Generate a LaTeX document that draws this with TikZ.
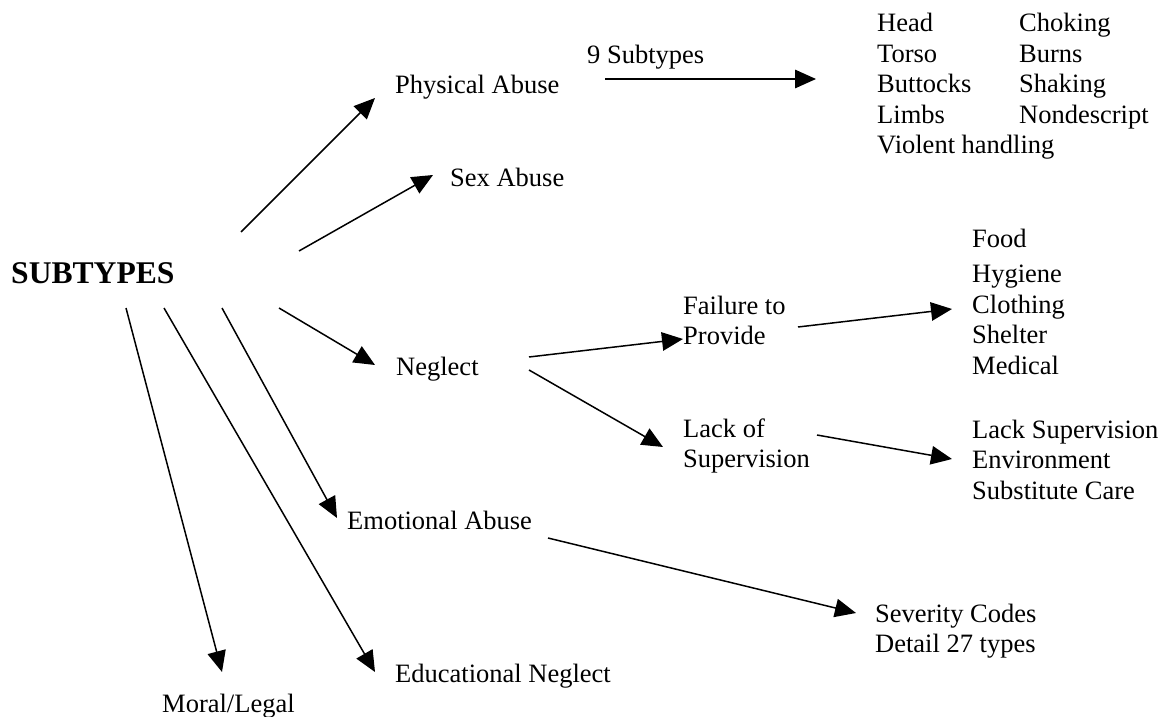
\documentclass[tikz,border=0pt]{standalone}
\usepackage{fontspec}
\setmainfont{Liberation Serif}
\usetikzlibrary{arrows.meta}
\begin{document}
\begin{tikzpicture}[x=1pt,y=-1pt,
  lbl/.style={anchor=base west, inner sep=0pt, font=\fontsize{26.5}{30.5}\selectfont},
  arr/.style={-{Triangle[length=21pt,width=18.5pt]}, line width=1.5pt, black}]
\useasboundingbox[fill=white] (0,0) rectangle (1160,717);

% text nodes
\node[lbl, font=\bfseries\fontsize{31.6}{36}\selectfont] (root) at (11,283) {SUBTYPES};
\node[lbl] (pa) at (395,93) {Physical Abuse};
\node[lbl] (nine) at (587,64) {9 Subtypes};
\node[lbl] (palist) at (877,32) {\begin{tabular}[t]{@{}p{142pt}@{}l@{}}Head & Choking\\ Torso & Burns\\ Buttocks & Shaking\\ Limbs & Nondescript\\ \multicolumn{2}{@{}l@{}}{Violent handling}\end{tabular}};
\node[lbl] (sa) at (450,186) {Sex Abuse};
\node[lbl] (ne) at (396,375) {Neglect};
\node[lbl] (ftp) at (683,314) {\begin{tabular}[t]{@{}l@{}}Failure to\\ Provide\end{tabular}};
\node[lbl] (los) at (683,437) {\begin{tabular}[t]{@{}l@{}}Lack of\\ Supervision\end{tabular}};
\node[lbl] (ftplist) at (972,247) {\begin{tabular}[t]{@{}l@{}}Food\\[5pt] Hygiene\\ Clothing\\ Shelter\\ Medical\end{tabular}};
\node[lbl] (loslist) at (972,438) {\begin{tabular}[t]{@{}l@{}}Lack Supervision\\ Environment\\ Substitute Care\end{tabular}};
\node[lbl] (ea) at (347,529) {Emotional Abuse};
\node[lbl] (sev) at (875,622) {\begin{tabular}[t]{@{}l@{}}Severity Codes\\ Detail 27 types\end{tabular}};
\node[lbl] (en) at (395,682) {Educational Neglect};
\node[lbl] (ml) at (162,712) {Moral/Legal};

% connector ends
\coordinate (r1) at (241,232);
\coordinate (r2) at (299,251);
\coordinate (r3) at (279,308);
\coordinate (r4) at (222,308);
\coordinate (r5) at (164,308);
\coordinate (r6) at (126,308);
\coordinate (pa-in) at (375,98);
\coordinate (sa-in) at (433,175);
\coordinate (ne-in) at (375,365);
\coordinate (ea-in) at (337,518);
\coordinate (en-in) at (375,672);
\coordinate (ml-in) at (222,672);
\coordinate (pa-out) at (605,79);
\coordinate (palist-in) at (816,79);
\coordinate (ne-out1) at (529,357);
\coordinate (ne-out2) at (529,370);
\coordinate (ftp-in) at (683,339);
\coordinate (los-in) at (663,447);
\coordinate (ftp-out) at (798,327);
\coordinate (ftplist-in) at (952,309);
\coordinate (los-out) at (817,435);
\coordinate (loslist-in) at (952,459);
\coordinate (ea-out) at (548,538);
\coordinate (sev-in) at (856,613);

% connectors
\draw[arr] (r1) -- (pa-in);
\draw[arr] (r2) -- (sa-in);
\draw[arr] (r3) -- (ne-in);
\draw[arr] (r4) -- (ea-in);
\draw[arr] (r5) -- (en-in);
\draw[arr] (r6) -- (ml-in);
\draw[arr] (pa-out) -- (palist-in);
\draw[arr] (ne-out1) -- (ftp-in);
\draw[arr] (ne-out2) -- (los-in);
\draw[arr] (ftp-out) -- (ftplist-in);
\draw[arr] (los-out) -- (loslist-in);
\draw[arr] (ea-out) -- (sev-in);
\end{tikzpicture}
\end{document}
